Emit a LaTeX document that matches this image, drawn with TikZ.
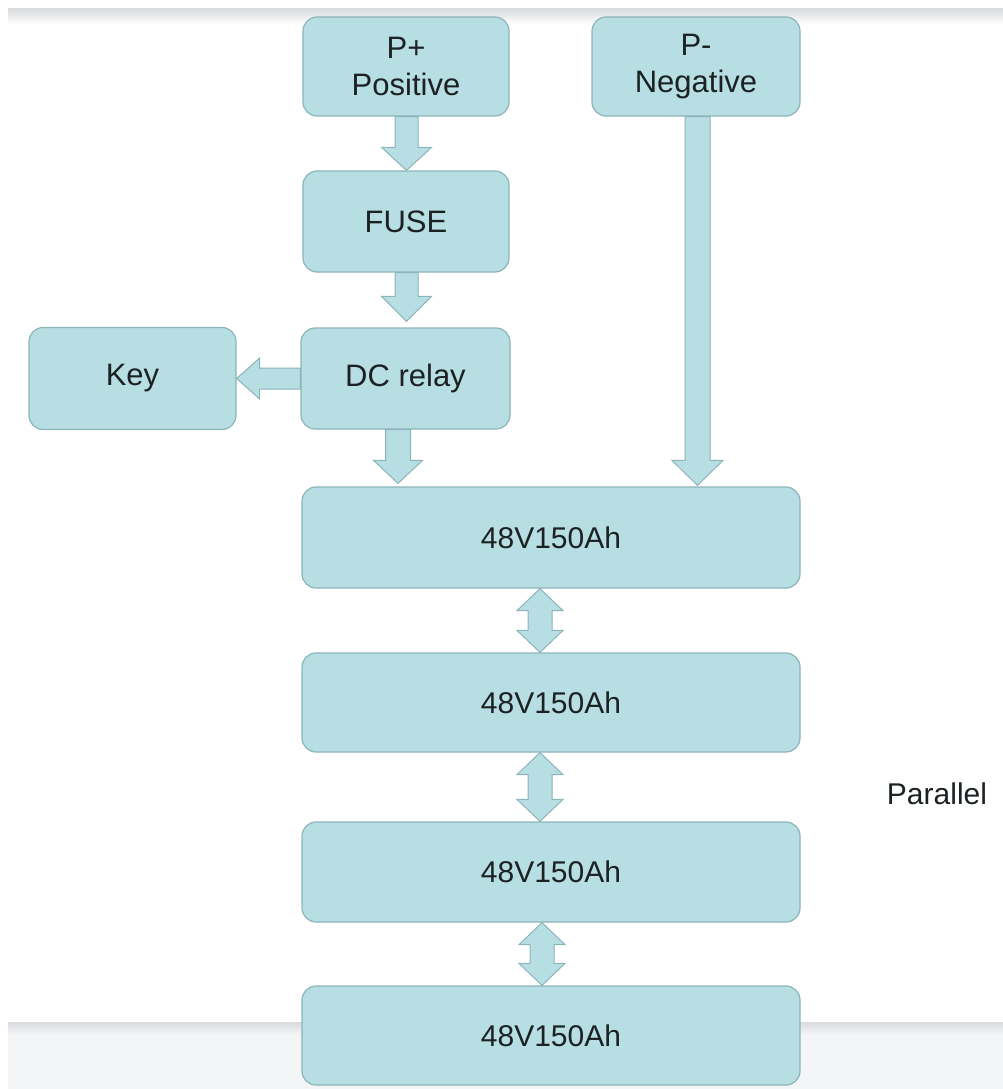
\documentclass[tikz,border=0pt]{standalone}
\usepackage{fontspec}
\setmainfont{Liberation Sans}
\usetikzlibrary{calc}
\pgfdeclarelayer{background}
\pgfsetlayers{background,main}
\definecolor{boxfill}{RGB}{183,222,226}
\definecolor{boxline}{RGB}{140,180,186}
\definecolor{txt}{RGB}{28,34,36}
\definecolor{bandcol}{RGB}{244,245,247}
\definecolor{bandtop}{RGB}{218,219,222}
% vertical down block arrow: from, to, xc, half shaft, half head, head length, end gap
\newcommand\vblk[7]{%
  \draw[blk] let \p1=#1, \p2=#2 in
  ({(#3-#4)*1pt},\y1) -- ({(#3-#4)*1pt},{\y2+(#6+#7)*1pt}) --
  ({(#3-#5)*1pt},{\y2+(#6+#7)*1pt}) -- ({#3*1pt},{\y2+#7*1pt}) --
  ({(#3+#5)*1pt},{\y2+(#6+#7)*1pt}) -- ({(#3+#4)*1pt},{\y2+(#6+#7)*1pt}) --
  ({(#3+#4)*1pt},\y1) -- cycle;}
% double vertical block arrow: upper box anchor, lower box anchor, xc
\newcommand\dblk[3]{%
  \draw[blk] let \p1=#1, \p2=#2 in
  ({#3*1pt},\y1) -- ({(#3+23)*1pt},{\y1-22pt}) -- ({(#3+12)*1pt},{\y1-22pt}) --
  ({(#3+12)*1pt},{\y2+22pt}) -- ({(#3+23)*1pt},{\y2+22pt}) -- ({#3*1pt},\y2) --
  ({(#3-23)*1pt},{\y2+22pt}) -- ({(#3-12)*1pt},{\y2+22pt}) --
  ({(#3-12)*1pt},{\y1-22pt}) -- ({(#3-23)*1pt},{\y1-22pt}) -- cycle;}
\begin{document}
\begin{tikzpicture}[x=1pt,y=-1pt,
  box/.style={draw=boxline, line width=1.2pt, fill=boxfill, rounded corners=14pt,
    text=txt, font=\fontsize{31}{37}\selectfont, align=center, inner sep=0pt},
  batt/.style={box, minimum width=498pt, font=\fontsize{30}{36}\selectfont},
  blk/.style={draw=boxline, line width=1pt, fill=boxfill, line join=miter}]
\useasboundingbox (0,0) rectangle (1003,1089);
% nodes
\node[box, minimum width=206pt, minimum height=99pt]  (pp)   at (406,66.5)  {P+\\Positive};
\node[box, minimum width=208pt, minimum height=99pt]  (pm)   at (696,66.5)  {P-\\Negative};
\node[box, minimum width=206pt, minimum height=101pt] (fuse) at (406,221.5) {FUSE};
\node[box, minimum width=209pt, minimum height=101pt] (dc)   at (405.5,378.5) {DC relay};
\node[box, minimum width=207pt, minimum height=102pt] (key)  at (132.5,378.5) {Key};
\node[batt, minimum height=101pt] (b1) at (551,537.5)  {48V150Ah};
\node[batt, minimum height=99pt]  (b2) at (551,702.5)  {48V150Ah};
\node[batt, minimum height=100pt] (b3) at (551,872)    {48V150Ah};
\node[batt, minimum height=99pt]  (b4) at (551,1035.5) {48V150Ah};
\node[text=txt, font=\fontsize{30}{36}\selectfont] (par) at (937,794) {Parallel};
\begin{pgfonlayer}{background}
% background details
\shade[top color=bandtop, bottom color=white] (8,9) rectangle (1003,24);
\draw[bandtop, line width=1.5pt] (8,9) -- (1003,9);
\fill[bandcol] (8,1030) rectangle (1003,1089);
\shade[top color=bandtop, bottom color=bandcol] (8,1022) rectangle (1003,1034);
% arrows
\vblk{(pp.south)}{(fuse.north)}{406.5}{11.5}{25}{23}{0}
\vblk{(fuse.south)}{(dc.north)}{406.5}{11.5}{25}{25}{6}
\vblk{(dc.south)}{(b1.north)}{398}{12.5}{24.5}{23}{3}
\vblk{(pm.south)}{(b1.north)}{697.5}{12.5}{25.5}{25}{1}
\draw[blk] let \p1=(dc.west), \p2=(key.east) in
  (\x1,{\y1+10.5pt}) -- ({\x2+23pt},{\y1+10.5pt}) -- ({\x2+23pt},{\y1+20.5pt}) --
  (\x2,\y1) -- ({\x2+23pt},{\y1-20.5pt}) -- ({\x2+23pt},{\y1-10.5pt}) --
  (\x1,{\y1-10.5pt}) -- cycle;
\dblk{(b1.south)}{(b2.north)}{540}
\dblk{(b2.south)}{(b3.north)}{540}
\dblk{(b3.south)}{(b4.north)}{542}
\end{pgfonlayer}
\end{tikzpicture}
\end{document}
